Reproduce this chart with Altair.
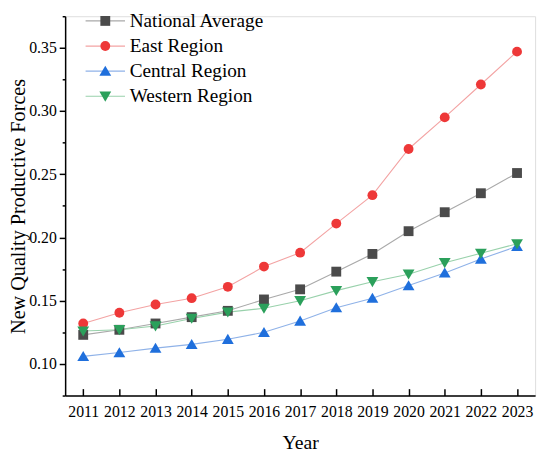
import altair as alt
import pandas as pd

years = list(range(2011, 2024))
series_names = ["National Average", "East Region", "Central Region", "Western Region"]
national = [0.123, 0.127, 0.132, 0.137, 0.142, 0.151, 0.159, 0.173, 0.187, 0.205, 0.220, 0.235, 0.251]
east = [0.132, 0.1405, 0.147, 0.152, 0.161, 0.177, 0.188, 0.211, 0.2335, 0.270, 0.295, 0.321, 0.347]
central = [0.106, 0.109, 0.1125, 0.1155, 0.1195, 0.125, 0.134, 0.1445, 0.152, 0.162, 0.172, 0.183, 0.193]
western = [0.126, 0.127, 0.130, 0.136, 0.141, 0.144, 0.150, 0.158, 0.165, 0.171, 0.180, 0.1875, 0.195]

marker_colors = ["#4b4b4b", "#ee3838", "#1f6fdc", "#2ba05b"]
line_colors = ["#a9a9a9", "#f3a3a3", "#8fb2e8", "#98d1ab"]
shapes = ["square", "circle", "M0,-1.1L1.2,0.95H-1.2Z", "M0,1.1L1.2,-0.95H-1.2Z"]

y_major_ticks = [0.10, 0.15, 0.20, 0.25, 0.30, 0.35]
y_minor_ticks = [0.075, 0.125, 0.175, 0.225, 0.275, 0.325, 0.375]

rows = []
for name, vals in zip(series_names, [national, east, central, western]):
    for yr, v in zip(years, vals):
        rows.append({"year": yr, "value": v, "series": name})
df = pd.DataFrame(rows)

FONT = "Liberation Serif"

x_scale = alt.Scale(domain=[2010.5, 2023.5], nice=False, zero=False)
y_scale = alt.Scale(domain=[0.075, 0.375], nice=False, zero=False)

y_axis_major = alt.Axis(
    values=y_major_ticks, format=".2f", tickSize=6,
    tickColor="black", tickWidth=1.5, domainColor="black", domainWidth=1.5,
    labelFont=FONT, labelFontSize=16, labelColor="black", labelPadding=3,
    titleFont=FONT, titleFontSize=20.5, titleFontWeight="normal", titleColor="black",
    titlePadding=0, grid=False,
)

y_axis_minor = alt.Axis(
    orient="left", values=y_minor_ticks, tickSize=3, tickColor="black",
    tickWidth=1.5, labels=False, domain=False, title=None, grid=False,
)

x_axis_bottom = alt.Axis(
    values=years, format="d", ticks=False,
    domainColor="black", domainWidth=1.5,
    labelFont=FONT, labelFontSize=16, labelColor="black", labelPadding=8,
    titleFont=FONT, titleFontSize=20, titleFontWeight="normal", titleColor="black",
    titlePadding=14, grid=False, labelFlush=False,
)

x_axis_ticks = alt.Axis(
    orient="top", offset=-385, values=years, tickSize=7, tickColor="black",
    tickWidth=1.5, labels=False, domain=False, title=None, grid=False,
)

legend_common = dict(
    orient="none", legendX=31, legendY=-5, symbolSize=100,
    labelFont=FONT, labelFontSize=19.5, labelOffset=15, rowPadding=4.5, padding=0,
)

lines = alt.Chart(df).mark_line(strokeWidth=1.1).encode(
    x=alt.X("year:Q", scale=x_scale, axis=x_axis_bottom, title="Year"),
    y=alt.Y("value:Q", scale=y_scale, axis=y_axis_major, title="New Quality Productive Forces"),
    color=alt.Color(
        "series:N",
        scale=alt.Scale(domain=series_names, range=line_colors),
        title=None,
        legend=alt.Legend(
            symbolType="M-4,0H4", symbolStrokeWidth=1.2, labelOpacity=0,
            **legend_common,
        ),
    ),
    detail="series:N",
)

point_legend = alt.Legend(symbolStrokeWidth=0, labelColor="black", **legend_common)

points = alt.Chart(df).mark_point(filled=True, size=100, opacity=1).encode(
    x=alt.X("year:Q", scale=x_scale, axis=x_axis_ticks),
    y=alt.Y("value:Q", scale=y_scale, axis=y_axis_minor),
    color=alt.Color(
        "series:N",
        scale=alt.Scale(domain=series_names, range=marker_colors),
        title=None,
        legend=point_legend,
    ),
    shape=alt.Shape(
        "series:N",
        scale=alt.Scale(domain=series_names, range=shapes),
        title=None,
        legend=point_legend,
    ),
)

chart = (
    alt.layer(lines, points)
    .resolve_scale(color="independent", shape="independent")
    .resolve_axis(x="independent", y="independent")
    .properties(
        width=477, height=385, autosize="none",
        padding={"left": 58, "top": 5, "right": 7, "bottom": 58},
    )
    .configure_view(strokeWidth=0)
    .configure(background="white")
)

chart.save("out.html", embed_options={"renderer": "svg", "actions": False})
